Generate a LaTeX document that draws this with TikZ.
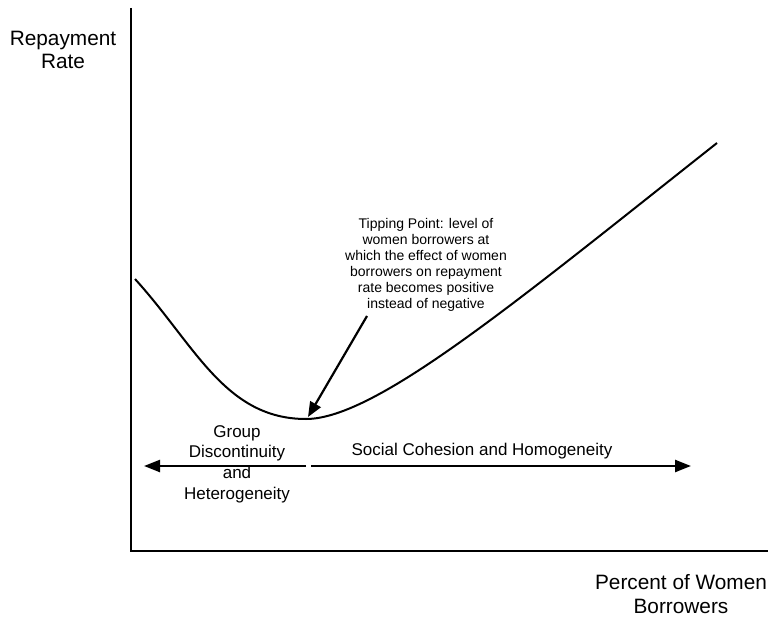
\documentclass[tikz,border=0pt]{standalone}
\usepackage{fontspec}
\setmainfont{Liberation Sans}
\usetikzlibrary{arrows.meta}
\begin{document}
\begin{tikzpicture}[x=1pt,y=-1pt,
  axisline/.style={line width=2.2pt,black},
  curveline/.style={line width=2pt,black},
  arrowline/.style={line width=2.4pt,black,-{Triangle[length=16pt,width=12pt]}},
  tiparrow/.style={line width=2.2pt,black,-{Triangle[length=15pt,width=12pt]}},
  axislabel/.style={align=center,inner sep=0pt,font=\fontsize{20.8}{23.5}\selectfont},
  tiplabel/.style={align=center,inner sep=0pt,font=\fontsize{14}{16}\selectfont},
  grouplabel/.style={align=center,inner sep=0pt,font=\fontsize{17}{20.7}\selectfont}]
\useasboundingbox (0,0) rectangle (768,617);
% axes
\coordinate (top) at (131,8);
\coordinate (origin) at (131,551);
\coordinate (right) at (768,551);
\draw[axisline] (top) -- (origin) -- (right);
% curve
\coordinate (cstart) at (135,279);
\coordinate (cmin) at (306,419);
\coordinate (cend) at (717,143);
\draw[curveline] (cstart) .. controls (195,345) and (225,419) .. (cmin)
  .. controls (376,419) and (517,301) .. (cend);
% labels
\node[axislabel] (ylab) at (63,50) {Repayment\\Rate};
\node[axislabel] (xlab) at (681,594) {Percent of Women\\Borrowers};
\node[tiplabel] (tip) at (426,265) {Tipping Point: level of\\women borrowers at\\which the effect of women\\borrowers on repayment\\rate becomes positive\\instead of negative};
\node[grouplabel] (grp) at (237,464) {Group\\Discontinuity\\and\\Heterogeneity};
\node[grouplabel] (soc) at (482,451) {Social Cohesion and Homogeneity};
% tipping arrow
\coordinate (tipstart) at (367,316);
\coordinate (tipend) at (308,417);
\draw[tiparrow] (tipstart) -- (tipend);
% range arrows
\coordinate (lstart) at (306,466);
\coordinate (lend) at (144,466);
\coordinate (rstart) at (311,466);
\coordinate (rend) at (691,466);
\draw[arrowline] (lstart) -- (lend);
\draw[arrowline] (rstart) -- (rend);
\end{tikzpicture}
\end{document}
